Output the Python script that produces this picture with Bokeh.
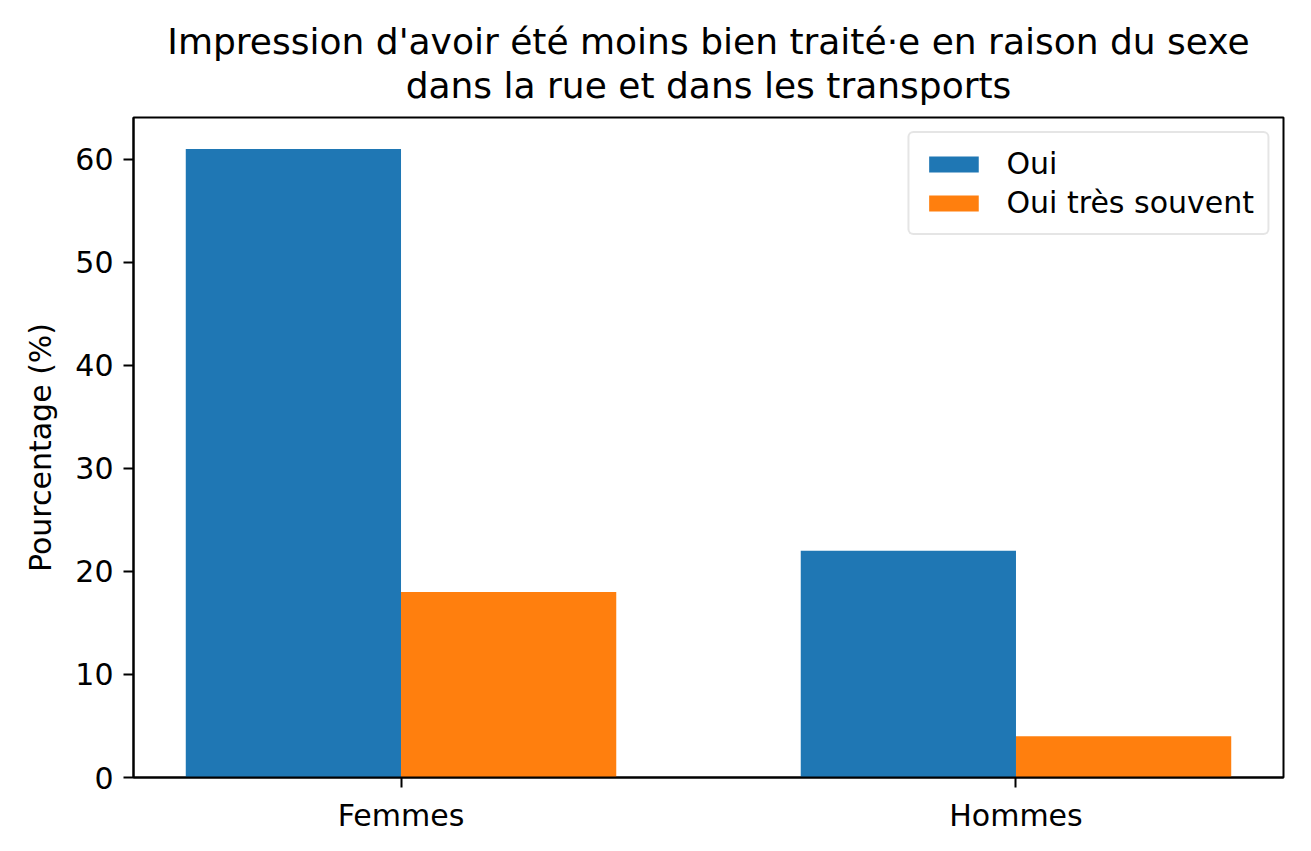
from bokeh.plotting import figure
from bokeh.models import Range1d, FixedTicker, Legend, LegendItem, Title
from bokeh.embed import file_html
from bokeh.resources import INLINE

groups = ["Femmes", "Hommes"]
oui = [61, 22]
oui_tres_souvent = [18, 4]
series_names = ["Oui", "Oui très souvent"]
colors = ["#1f77b4", "#ff7f0e"]
y_ticks = [0, 10, 20, 30, 40, 50, 60]
title_lines = ["Impression d'avoir été moins bien traité·e en raison du sexe",
               "dans la rue et dans les transports"]

width = 0.35
xs = list(range(len(groups)))
FONT = "DejaVu Sans"

p = figure(width=1295, height=835,
           x_range=Range1d(-0.435, 1.435), y_range=Range1d(0, 64.05),
           output_backend="svg", toolbar_location=None,
           min_border_left=133, min_border_right=12,
           min_border_top=117, min_border_bottom=55)

r1 = p.vbar(x=[x - width / 2 for x in xs], top=oui, width=width,
            fill_color=colors[0], line_color=None)
r2 = p.vbar(x=[x + width / 2 for x in xs], top=oui_tres_souvent, width=width,
            fill_color=colors[1], line_color=None)

# two-line title: p.title is the outer line, the added Title sits next to the frame
p.title.text = title_lines[0]
sub = Title(text=title_lines[1])
p.add_layout(sub, "above")
for t in (p.title, sub):
    t.align = "center"
    t.text_font = FONT
    t.text_font_size = "36px"
    t.text_font_style = "normal"
    t.text_color = "black"
    t.offset = 0
p.title.standoff = -21
sub.standoff = 23

p.xgrid.visible = False
p.ygrid.visible = False
p.outline_line_color = "black"
p.outline_line_width = 2
p.outline_line_alpha = 1

p.xaxis.ticker = FixedTicker(ticks=xs)
p.xaxis.major_label_overrides = {i: g for i, g in enumerate(groups)}
p.yaxis.ticker = FixedTicker(ticks=y_ticks)
p.yaxis.axis_label = "Pourcentage (%)"

for ax in (p.xaxis, p.yaxis):
    ax.axis_line_color = "black"
    ax.axis_line_width = 2
    ax.major_tick_line_color = "black"
    ax.major_tick_line_width = 2
    ax.major_tick_out = 10
    ax.major_tick_in = 0
    ax.minor_tick_line_color = None
    ax.major_label_text_font = FONT
    ax.major_label_text_font_size = "30px"
    ax.major_label_text_color = "black"
    ax.axis_label_text_font = FONT
    ax.axis_label_text_font_size = "30px"
    ax.axis_label_text_font_style = "normal"
    ax.axis_label_text_color = "black"
    ax.major_label_standoff = 10
p.yaxis.axis_label_standoff = 14

legend = Legend(items=[LegendItem(label=series_names[0], renderers=[r1]),
                       LegendItem(label=series_names[1], renderers=[r2])],
                location="top_right")
legend.label_text_font = FONT
legend.label_text_font_size = "30px"
legend.label_text_color = "black"
legend.label_height = 35
legend.glyph_width = 62
legend.glyph_height = 20
legend.spacing = 4
legend.padding = 13
legend.margin = 14
legend.border_line_color = "#cccccc"
legend.border_line_width = 2
legend.border_radius = 6
legend.label_standoff = 22
p.add_layout(legend)

open("out.html", "w").write(file_html(p, INLINE))
